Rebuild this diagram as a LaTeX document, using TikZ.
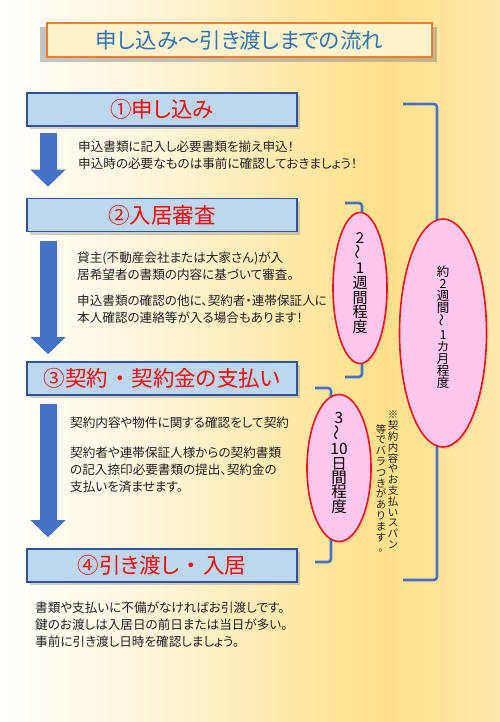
\documentclass[tikz,border=0pt]{standalone}
\usepackage{fontspec}
\setmainfont{Noto Sans CJK JP}[RawFeature=+palt]
\usetikzlibrary{positioning,shapes.geometric,shadows,arrows.meta}

\definecolor{titleblue}{HTML}{2E75B6}
\definecolor{titleline}{HTML}{ED7D31}
\definecolor{titlefill}{HTML}{FFF2CC}
\definecolor{boxline}{HTML}{2F5597}
\definecolor{boxfill}{HTML}{BDD7EE}
\definecolor{stepred}{HTML}{FF0000}
\definecolor{arrowblue}{HTML}{4472C4}
\definecolor{spanred}{HTML}{E8141E}
\definecolor{spanpink}{HTML}{FDC7EE}
\definecolor{textgray}{HTML}{222222}
\definecolor{bgA}{HTML}{FFFEFA}
\definecolor{bgB}{HTML}{FEF3D4}
\definecolor{bgC}{HTML}{FFE8A6}
\definecolor{bgD}{HTML}{FFE08A}
\definecolor{bgE}{HTML}{FFE9AE}

\pgfdeclarehorizontalshading{backshade}{100bp}{color(0bp)=(white); color(25bp)=(white);
  color(27bp)=(bgA); color(42bp)=(bgB); color(55bp)=(bgC); color(63.5bp)=(bgD);
  color(75bp)=(bgE); color(100bp)=(bgE)}

\newcommand{\nakaguro}{\hspace{0.3em}・\hspace{0.3em}}

\begin{document}
\begin{tikzpicture}[x=1pt,y=-1pt,
  titlebox/.style={draw=titleline, line width=2.2pt, fill=titlefill, minimum width=385pt,
    minimum height=34pt, inner sep=0pt, text=titleblue, font=\fontsize{21.5}{24}\selectfont,
    drop shadow={shadow xshift=-1pt, shadow yshift=-4pt, shadow scale=1.03, opacity=.45}},
  stepbox/.style={draw=boxline, line width=1.6pt, fill=boxfill, minimum width=270pt,
    minimum height=33pt, inner sep=0pt, text=stepred, font=\fontsize{21.5}{24}\selectfont,
    drop shadow={shadow xshift=3pt, shadow yshift=-3pt, opacity=.35}},
  steptext/.style={anchor=west, align=left, inner sep=0pt, text=textgray,
    font=\fontsize{12.6}{17}\selectfont},
  flowarrow/.style={draw=arrowblue, line width=17pt, -{Triangle[length=17pt,width=34pt]}},
  bracket/.style={draw=arrowblue, line width=2.6pt, rounded corners=3pt},
  spanoval/.style={ellipse, draw=spanred, line width=1.6pt, fill=spanpink, inner sep=0pt,
    drop shadow={shadow xshift=2pt, shadow yshift=-2pt, opacity=.2}},
  tate/.style={align=center, inner sep=0pt, text=black}
]
  \useasboundingbox (0,0) rectangle (500,722);
  \fill[shading=backshade] (0,0) rectangle (500,722);

  % title
  \node[titlebox] (title) at (239.5,40) {申し込み～引き渡しまでの流れ};

  % steps
  \node[stepbox] (step1) at (162,109.5) {①申し込み};
  \node[stepbox] (step2) at (162,215) {②入居審査};
  \node[stepbox] (step3) at (162,378.5) {③契約\nakaguro 契約金の支払い};
  \node[stepbox] (step4) at (162,565.5) {④引き渡し\nakaguro 入居};

  \draw[flowarrow] ([xshift=-114pt,yshift=-6pt]step1.south) -- ([xshift=-114pt,yshift=11pt]step2.north);
  \draw[flowarrow] ([xshift=-114pt,yshift=-9pt]step2.south) -- ([xshift=-114pt,yshift=7pt]step3.north);
  \draw[flowarrow] ([xshift=-114pt,yshift=-8pt]step3.south) -- ([xshift=-114pt,yshift=11pt]step4.north);

  \node[steptext, font=\fontsize{12.6}{16.5}\selectfont] (text1) at (78,155) {申込書類に記入し必要書類を揃え申込！\\
    申込時の必要なものは事前に確認しておきましょう！};
  \node[steptext] (text2) at (77,287.5) {貸主(不動産会社または大家さん)が入\\
    居希望者の書類の内容に基づいて審査。\\[9pt]
    申込書類の確認の他に、契約者・連帯保証人に\\
    本人確認の連絡等が入る場合もあります！};
  \node[steptext] (text3) at (70,454.5) {契約内容や物件に関する確認をして契約\\[13pt]
    契約者や連帯保証人様からの契約書類\\
    の記入捺印必要書類の提出、契約金の\\
    支払いを済ませます。};
  \node[steptext] (text4) at (35,625) {書類や支払いに不備がなければお引渡しです。\\
    鍵のお渡しは入居日の前日または当日が多い。\\
    事前に引き渡し日時を確認しましょう。};

  % spans
  \draw[bracket] (403,104) -- (437,104) -- (437,580) -- (403,580);
  \draw[bracket] (345,203) -- (362,203) -- (362,377) -- (345,377);
  \draw[bracket] (315,388) -- (331,388) -- (331,562) -- (315,562);

  \node[spanoval, minimum width=54pt, minimum height=151pt] (span12) at (360,288) {};
  \node[spanoval, minimum width=87pt, minimum height=228pt] (spanall) at (443,333) {};
  \node[spanoval, minimum width=64pt, minimum height=147pt] (span34) at (339,468) {};

  \node[tate, font=\fontsize{15}{14.7}\selectfont] (span12text) at ([yshift=5pt]span12.center)
    {2\\\rotatebox{90}{～}\\1\\週\\間\\程\\度};
  \node[tate, font=\fontsize{12.5}{12.1}\selectfont] (spanalltext) at ([yshift=6pt]spanall.center)
    {約\\2\\週\\間\\\rotatebox{90}{～}\\1\\カ\\月\\程\\度};
  \node[tate, font=\fontsize{15.5}{14.3}\selectfont] (span34text) at ([yshift=5pt]span34.center)
    {3\\\rotatebox{90}{～}\\10\\日\\間\\程\\度};

  % note
  \node[tate, anchor=north, text=textgray, font=\fontsize{10.5}{10.8}\selectfont] (noteright) at (393,411)
    {※\\契\\約\\内\\容\\や\\お\\支\\払\\い\\ス\\パ\\ン};
  \node[tate, anchor=north, text=textgray, font=\fontsize{10.5}{10.8}\selectfont] (noteleft) at (381,424)
    {等\\で\\バ\\ラ\\つ\\き\\が\\あ\\り\\ま\\す\\。};
\end{tikzpicture}
\end{document}
